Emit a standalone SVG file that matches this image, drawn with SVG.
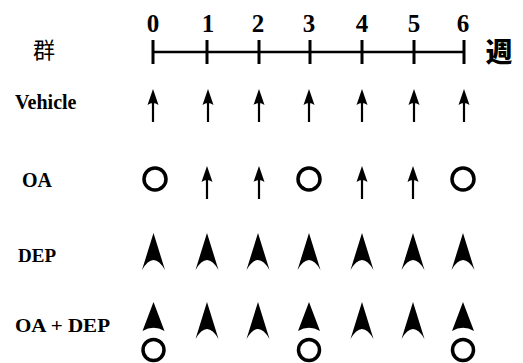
<svg xmlns="http://www.w3.org/2000/svg" xmlns:xlink="http://www.w3.org/1999/xlink" width="523" height="363" viewBox="0 0 523 363">
<style>
.lbl{font-family:"Liberation Serif","Times New Roman",serif;font-weight:bold;fill:#000}
.num{font-family:"Liberation Serif","Times New Roman",serif;font-weight:bold;font-size:25px;fill:#000;text-anchor:middle}
.cjk{font-family:"Noto Sans CJK SC","Noto Sans CJK JP",sans-serif;fill:#000}
.axis{stroke:#000;stroke-width:2.5;fill:none}
.tick{stroke:#000;stroke-width:3;fill:none}
.ring{fill:none;stroke:#000;stroke-width:3.5}
</style>
<defs>
<g id="small">
<path d="M0,0 L5.5,16 Q0,12 -5.5,16 Z" fill="#000"/>
<line x1="0" y1="12" x2="0" y2="33" stroke="#000" stroke-width="2.2"/>
</g>
<path id="big" d="M0,0 L11.5,37 Q0,17 -11.5,37 Z" fill="#000"/>
<g id="combo">
<path d="M0,0 L11,29 A22,22 0 0 0 -11,29 Z" fill="#000"/>
<circle cx="0" cy="48" r="10.5" class="ring"/>
</g>
<circle id="ring" cx="0" cy="0" r="11" class="ring"/>
</defs>

<g id="axis">
<line class="axis" x1="153" y1="52" x2="464" y2="52"/>
<g class="tick">
<line x1="153" y1="40" x2="153" y2="64"/>
<line x1="207" y1="40" x2="207" y2="64"/>
<line x1="259" y1="40" x2="259" y2="64"/>
<line x1="310" y1="40" x2="310" y2="64"/>
<line x1="362" y1="40" x2="362" y2="64"/>
<line x1="414" y1="40" x2="414" y2="64"/>
<line x1="464" y1="40" x2="464" y2="64"/>
</g>
<text class="num" x="153" y="32">0</text>
<text class="num" x="208" y="32">1</text>
<text class="num" x="258" y="32">2</text>
<text class="num" x="309" y="32">3</text>
<text class="num" x="362" y="32">4</text>
<text class="num" x="414" y="32">5</text>
<text class="num" x="463" y="32">6</text>
<text class="cjk" x="44" y="58" font-size="22" text-anchor="middle">群</text>
<text class="cjk" x="499" y="62" font-size="27" font-weight="900" text-anchor="middle">週</text>
</g>

<g id="row-vehicle">
<text class="lbl" x="15" y="109" font-size="20">Vehicle</text>
<use xlink:href="#small" x="153" y="89"/>
<use xlink:href="#small" x="208" y="89"/>
<use xlink:href="#small" x="259" y="89"/>
<use xlink:href="#small" x="309" y="89"/>
<use xlink:href="#small" x="362" y="89"/>
<use xlink:href="#small" x="414" y="89"/>
<use xlink:href="#small" x="464" y="89"/>
</g>

<g id="row-oa">
<text class="lbl" x="22" y="187" font-size="20">OA</text>
<use xlink:href="#ring" x="155" y="179"/>
<use xlink:href="#small" x="207" y="166"/>
<use xlink:href="#small" x="259" y="166"/>
<use xlink:href="#ring" x="309" y="179"/>
<use xlink:href="#small" x="362" y="166"/>
<use xlink:href="#small" x="413" y="166"/>
<use xlink:href="#ring" x="463" y="179"/>
</g>

<g id="row-dep">
<text class="lbl" x="18" y="262" font-size="19">DEP</text>
<use xlink:href="#big" x="153.5" y="233"/>
<use xlink:href="#big" x="207" y="233"/>
<use xlink:href="#big" x="258" y="233"/>
<use xlink:href="#big" x="309" y="233"/>
<use xlink:href="#big" x="362" y="233"/>
<use xlink:href="#big" x="413" y="233"/>
<use xlink:href="#big" x="463" y="233"/>
</g>

<g id="row-oa-dep">
<text class="lbl" x="15" y="332" font-size="19" textLength="95" lengthAdjust="spacingAndGlyphs">OA + DEP</text>
<use xlink:href="#combo" x="153.5" y="302"/>
<use xlink:href="#big" x="207" y="302"/>
<use xlink:href="#big" x="258" y="302"/>
<use xlink:href="#combo" x="309" y="302"/>
<use xlink:href="#big" x="362" y="302"/>
<use xlink:href="#big" x="413" y="302"/>
<use xlink:href="#combo" x="463" y="302"/>
</g>
</svg>
